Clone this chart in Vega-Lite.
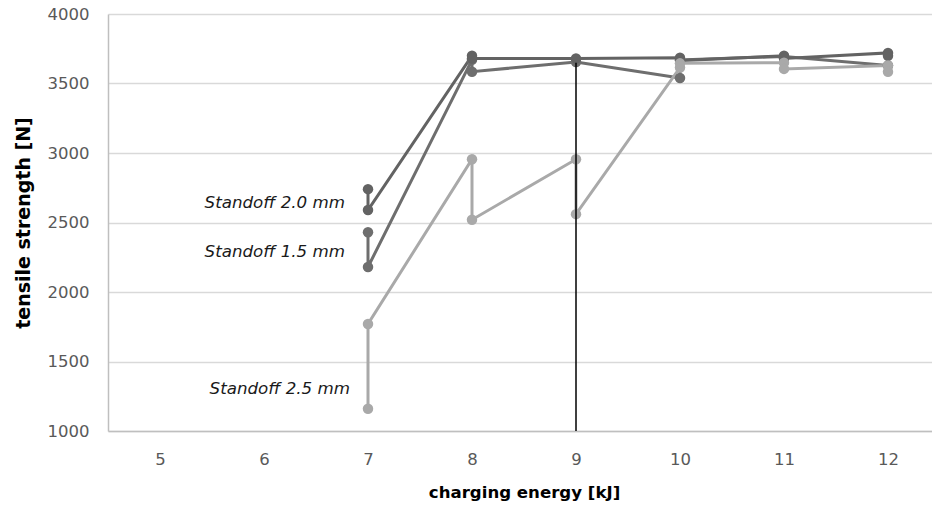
{
  "$schema": "https://vega.github.io/schema/vega-lite/v6.json",
  "autosize": "none",
  "padding": {"left": 108, "top": 14, "right": 0, "bottom": 76},
  "width": 832,
  "height": 417,
  "background": "white",
  "config": {
    "view": {"stroke": null},
    "font": "DejaVu Sans"
  },
  "datasets": {
    "series": [
      {"series": "Standoff 1.5 mm", "order": 1, "energy": 7, "strength": 2430},
      {"series": "Standoff 1.5 mm", "order": 2, "energy": 7, "strength": 2180},
      {"series": "Standoff 1.5 mm", "order": 3, "energy": 8, "strength": 3670},
      {"series": "Standoff 1.5 mm", "order": 4, "energy": 8, "strength": 3585},
      {"series": "Standoff 1.5 mm", "order": 5, "energy": 9, "strength": 3655},
      {"series": "Standoff 1.5 mm", "order": 6, "energy": 10, "strength": 3540},
      {"series": "Standoff 1.5 mm", "order": 7, "energy": 10, "strength": 3670},
      {"series": "Standoff 1.5 mm", "order": 8, "energy": 11, "strength": 3695},
      {"series": "Standoff 1.5 mm", "order": 9, "energy": 12, "strength": 3630},
      {"series": "Standoff 2.0 mm", "order": 1, "energy": 7, "strength": 2740},
      {"series": "Standoff 2.0 mm", "order": 2, "energy": 7, "strength": 2590},
      {"series": "Standoff 2.0 mm", "order": 3, "energy": 8, "strength": 3700},
      {"series": "Standoff 2.0 mm", "order": 4, "energy": 8, "strength": 3680},
      {"series": "Standoff 2.0 mm", "order": 5, "energy": 9, "strength": 3680},
      {"series": "Standoff 2.0 mm", "order": 6, "energy": 10, "strength": 3685},
      {"series": "Standoff 2.0 mm", "order": 7, "energy": 10, "strength": 3665},
      {"series": "Standoff 2.0 mm", "order": 8, "energy": 11, "strength": 3700},
      {"series": "Standoff 2.0 mm", "order": 9, "energy": 11, "strength": 3680},
      {"series": "Standoff 2.0 mm", "order": 10, "energy": 12, "strength": 3720},
      {"series": "Standoff 2.0 mm", "order": 11, "energy": 12, "strength": 3700},
      {"series": "Standoff 2.5 mm", "order": 1, "energy": 7, "strength": 1160},
      {"series": "Standoff 2.5 mm", "order": 2, "energy": 7, "strength": 1770},
      {"series": "Standoff 2.5 mm", "order": 3, "energy": 8, "strength": 2955},
      {"series": "Standoff 2.5 mm", "order": 4, "energy": 8, "strength": 2520},
      {"series": "Standoff 2.5 mm", "order": 5, "energy": 9, "strength": 2955},
      {"series": "Standoff 2.5 mm", "order": 6, "energy": 9, "strength": 2560},
      {"series": "Standoff 2.5 mm", "order": 7, "energy": 10, "strength": 3615},
      {"series": "Standoff 2.5 mm", "order": 8, "energy": 10, "strength": 3645},
      {"series": "Standoff 2.5 mm", "order": 9, "energy": 11, "strength": 3650},
      {"series": "Standoff 2.5 mm", "order": 10, "energy": 11, "strength": 3605},
      {"series": "Standoff 2.5 mm", "order": 11, "energy": 12, "strength": 3630},
      {"series": "Standoff 2.5 mm", "order": 12, "energy": 12, "strength": 3585}
    ],
    "labels": [
      {"label": "Standoff 2.0 mm", "group": "upper", "energy": 7, "strength": 2639},
      {"label": "Standoff 1.5 mm", "group": "upper", "energy": 7, "strength": 2286},
      {"label": "Standoff 2.5 mm", "group": "lower", "energy": 7, "strength": 1300}
    ],
    "marker": [
      {"energy": 9, "low": 1000, "high": 3650}
    ]
  },
  "encoding": {
    "x": {
      "field": "energy",
      "type": "quantitative",
      "scale": {"domain": [4.5, 12.5], "nice": false, "zero": false},
      "axis": {
        "values": [5, 6, 7, 8, 9, 10, 11, 12],
        "grid": false,
        "ticks": false,
        "domainColor": "#bfbfbf",
        "domainWidth": 1.5,
        "labelColor": "#595959",
        "labelFont": "DejaVu Sans",
        "labelFontSize": 16.5,
        "labelPadding": 20,
        "title": "charging energy [kJ]",
        "titleFont": "DejaVu Sans",
        "titleFontSize": 16.6,
        "titleFontWeight": "bold",
        "titleColor": "#000000",
        "titlePadding": 17
      }
    },
    "y": {
      "field": "strength",
      "type": "quantitative",
      "scale": {"domain": [1000, 4000], "nice": false, "zero": false},
      "axis": {
        "values": [1000, 1500, 2000, 2500, 3000, 3500, 4000],
        "format": "d",
        "grid": true,
        "gridColor": "#d9d9d9",
        "gridWidth": 1.5,
        "ticks": false,
        "domainColor": "#bfbfbf",
        "domainWidth": 1.5,
        "labelColor": "#595959",
        "labelFont": "DejaVu Sans",
        "labelFontSize": 16.5,
        "labelPadding": 19,
        "title": "tensile strength [N]",
        "titleFont": "DejaVu Sans",
        "titleFontSize": 19,
        "titleFontWeight": "bold",
        "titleColor": "#000000",
        "titlePadding": 14
      }
    }
  },
  "layer": [
    {
      "data": {"name": "series"},
      "mark": {"type": "line", "strokeWidth": 3},
      "encoding": {
        "color": {
          "field": "series",
          "type": "nominal",
          "scale": {"domain": ["Standoff 1.5 mm", "Standoff 2.0 mm", "Standoff 2.5 mm"], "range": ["#6e6e6e", "#636363", "#a9a9a9"]},
          "legend": null
        },
        "order": {"field": "order", "type": "quantitative"}
      }
    },
    {
      "data": {"name": "series"},
      "mark": {"type": "point", "filled": true, "opacity": 1, "size": 110},
      "encoding": {
        "color": {
          "field": "series",
          "type": "nominal",
          "scale": {"domain": ["Standoff 1.5 mm", "Standoff 2.0 mm", "Standoff 2.5 mm"], "range": ["#6e6e6e", "#636363", "#a9a9a9"]},
          "legend": null
        }
      }
    },
    {
      "data": {"name": "marker"},
      "mark": {"type": "rule", "color": "#000000", "strokeWidth": 1.5},
      "encoding": {
        "y": {"field": "low", "type": "quantitative"},
        "y2": {"field": "high"}
      }
    },
    {
      "data": {"name": "labels"},
      "transform": [{"filter": "datum.group === 'upper'"}],
      "mark": {"type": "text", "align": "right", "baseline": "middle", "font": "DejaVu Sans", "fontSize": 16.7, "fontStyle": "italic", "color": "#1a1a1a", "dx": -23},
      "encoding": {
        "text": {"field": "label"}
      }
    },
    {
      "data": {"name": "labels"},
      "transform": [{"filter": "datum.group === 'lower'"}],
      "mark": {"type": "text", "align": "right", "baseline": "middle", "font": "DejaVu Sans", "fontSize": 16.7, "fontStyle": "italic", "color": "#1a1a1a", "dx": -18},
      "encoding": {
        "text": {"field": "label"}
      }
    }
  ]
}
